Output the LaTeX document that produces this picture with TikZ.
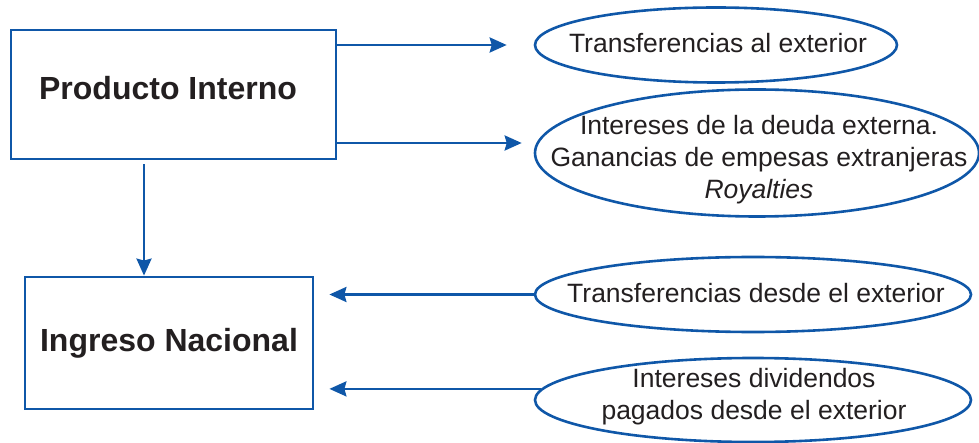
\documentclass[tikz,border=0pt]{standalone}
\usepackage{fontspec}
\setmainfont{Liberation Sans}
\usetikzlibrary{shapes.geometric,arrows.meta,calc}
\definecolor{dblue}{HTML}{0F57A8}
\definecolor{txt}{HTML}{231F20}
\begin{document}
\begin{tikzpicture}[x=1pt,y=-1pt,
  box/.style={draw=dblue,line width=2.8pt,rectangle,inner sep=0pt,text=txt,
    font=\fontsize{32}{38}\selectfont\bfseries},
  ell/.style={draw=dblue,line width=2.6pt,ellipse,inner sep=0pt},
  etext/.style={text=txt,align=center,inner sep=0pt,font=\fontsize{26.5}{32}\selectfont},
  arr/.style={draw=dblue,line width=2.6pt,-{Stealth[length=17pt,width=15pt,inset=2pt]}}]
\useasboundingbox (0,0) rectangle (979,443);
\node[box,minimum width=325pt,minimum height=129pt] (p1) at (173.5,94.5) {};
\node[text=txt,font=\fontsize{32}{38}\selectfont\bfseries,inner sep=0pt] (p1t) at (168,88) {Producto Interno};
\node[box,minimum width=288pt,minimum height=132pt] (p2) at (169,343) {Ingreso Nacional};
\node[ell,minimum width=362pt,minimum height=75pt] (e1) at (716,45) {};
\node[etext] (e1t) at (718,43) {Transferencias al exterior};
\node[ell,minimum width=444pt,minimum height=127pt] (e2) at (757,153) {};
\node[etext] (e2t) at (759,160) {Intereses de la deuda externa.\\Ganancias de empesas extranjeras\\\textit{Royalties}};
\node[ell,minimum width=436pt,minimum height=75pt] (e3) at (753,294.5) {};
\node[etext] (e3t) at (756,293) {Transferencias desde el exterior};
\node[ell,minimum width=436pt,minimum height=84pt] (e4) at (753,400) {};
\node[etext] (e4t) at (754,397) {Intereses dividendos\\pagados desde el exterior};
\coordinate (a2) at (0,143);
\coordinate (dx) at (144,0);
\draw[arr,shorten >=27pt] (p1.east |- e1.west) -- (e1.west);
\draw[arr,shorten >=12pt] (p1.east |- a2) -- (e2.west |- a2);
\draw[arr,shorten <=4pt] (p1.south -| dx) -- (p2.north -| dx);
\draw[arr,shorten >=15pt] (e3.west) -- (p2.east |- e3.west);
\draw[arr,shorten >=15pt] (e4.177) -- (p2.east |- e4.177);
\end{tikzpicture}
\end{document}
